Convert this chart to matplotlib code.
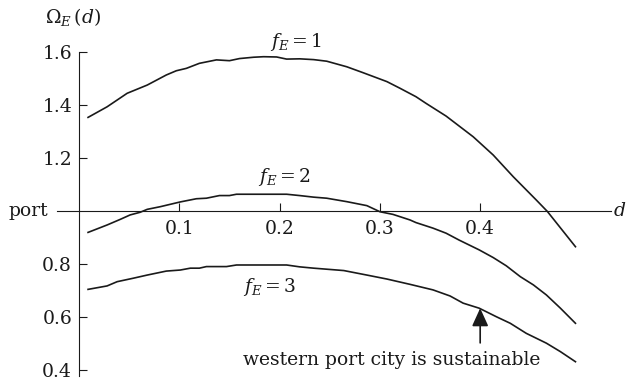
import matplotlib
matplotlib.use("Agg")
import matplotlib.pyplot as plt

plt.rcParams["font.family"] = ["DejaVu Serif"]
plt.rcParams["mathtext.fontset"] = "dejavuserif"

# distance d and Omega_E(d) for the three values of f_E
d_f1 = [0.009, 0.028, 0.048, 0.068, 0.087, 0.097, 0.107, 0.120, 0.137, 0.150, 0.160, 0.174,
        0.184, 0.197, 0.207, 0.220, 0.234, 0.247, 0.267, 0.283, 0.307, 0.320, 0.336, 0.346,
        0.366, 0.393, 0.413, 0.433, 0.456, 0.467, 0.495]
om_f1 = [1.355, 1.395, 1.446, 1.477, 1.515, 1.531, 1.540, 1.559, 1.572, 1.569, 1.577, 1.582,
         1.584, 1.583, 1.575, 1.576, 1.573, 1.567, 1.546, 1.524, 1.490, 1.465, 1.433, 1.408,
         1.360, 1.282, 1.213, 1.131, 1.043, 1.000, 0.867]

d_f2 = [0.009, 0.028, 0.041, 0.051, 0.061, 0.068, 0.081, 0.101, 0.117, 0.127, 0.140, 0.150,
        0.157, 0.174, 0.187, 0.207, 0.220, 0.234, 0.247, 0.267, 0.287, 0.300, 0.313, 0.330,
        0.336, 0.353, 0.366, 0.379, 0.399, 0.413, 0.426, 0.440, 0.453, 0.466, 0.480, 0.495]
om_f2 = [0.921, 0.949, 0.970, 0.987, 0.997, 1.008, 1.018, 1.036, 1.048, 1.050, 1.060, 1.060,
         1.065, 1.065, 1.065, 1.065, 1.060, 1.054, 1.050, 1.037, 1.022, 0.999, 0.989, 0.968,
         0.958, 0.937, 0.918, 0.892, 0.855, 0.826, 0.795, 0.754, 0.723, 0.685, 0.635, 0.578]

d_f3 = [0.009, 0.028, 0.038, 0.054, 0.068, 0.087, 0.101, 0.111, 0.120, 0.127, 0.147, 0.157,
        0.207, 0.220, 0.234, 0.264, 0.287, 0.307, 0.330, 0.353, 0.370, 0.383, 0.399, 0.416,
        0.430, 0.446, 0.466, 0.480, 0.495]
om_f3 = [0.706, 0.719, 0.735, 0.748, 0.760, 0.775, 0.779, 0.786, 0.786, 0.792, 0.792, 0.798,
         0.798, 0.791, 0.786, 0.777, 0.760, 0.745, 0.725, 0.704, 0.681, 0.654, 0.635, 0.603,
         0.578, 0.540, 0.503, 0.471, 0.433]

x_ticks = [0.1, 0.2, 0.3, 0.4]
y_ticks = [0.4, 0.6, 0.8, 1.2, 1.4, 1.6]
port_level = 1.0
sustain_d = 0.4
sustain_om = 0.635

ink = "#1a1a1a"
fs = 13.5

fig = plt.figure(figsize=(6.26, 3.80), dpi=100)
ax = fig.add_axes([0, 0, 1, 1])
ax.set_xlim(-0.0788, 0.5454)
ax.set_ylim(0.364, 1.798)

for d, om in [(d_f1, om_f1), (d_f2, om_f2), (d_f3, om_f3)]:
    ax.plot(d, om, color=ink, lw=1.2)

# axes cross at d = 0 and at the port level
for s in ["top", "right"]:
    ax.spines[s].set_visible(False)
ax.spines["left"].set_position(("data", 0))
ax.spines["left"].set_bounds(0.38, 1.6)
ax.spines["bottom"].set_position(("data", port_level))
ax.spines["bottom"].set_bounds(-0.022, 0.53)
for s in ["left", "bottom"]:
    ax.spines[s].set_color(ink)
    ax.spines[s].set_linewidth(0.8)

ax.set_xticks(x_ticks)
ax.set_xticklabels([f"{v:.1f}" for v in x_ticks])
ax.set_yticks(y_ticks)
ax.set_yticklabels([f"{v:.1f}" for v in y_ticks])
ax.tick_params(axis="both", direction="in", length=5.5, width=0.8, color=ink,
               labelsize=fs, labelcolor=ink, pad=5)
ax.tick_params(axis="x", pad=6)

ax.text(-0.0340, 1.735, r"$\Omega_{E}\,(d)$", fontsize=fs, color=ink, ha="left", va="center")
ax.text(0.5325, port_level, r"$d$", fontsize=fs, color=ink, ha="left", va="center")
ax.text(-0.0310, port_level, "port", fontsize=fs, color=ink, ha="right", va="center")

ax.text(0.216, 1.64, r"$f_E = 1$", fontsize=fs, color=ink, ha="center", va="center")
ax.text(0.205, 1.13, r"$f_E = 2$", fontsize=fs, color=ink, ha="center", va="center")
ax.text(0.190, 0.715, r"$f_E = 3$", fontsize=fs, color=ink, ha="center", va="center")

ax.annotate("", xy=(sustain_d, sustain_om), xytext=(sustain_d, 0.504),
            arrowprops=dict(arrowstyle="-|>,head_length=1.1,head_width=0.5",
                            mutation_scale=10, color=ink, lw=1.2,
                            shrinkA=0, shrinkB=0))
ax.text(0.312, 0.421, "western port city is sustainable", fontsize=fs, color=ink,
        ha="center", va="baseline")

fig.savefig("out.png", dpi=100)
